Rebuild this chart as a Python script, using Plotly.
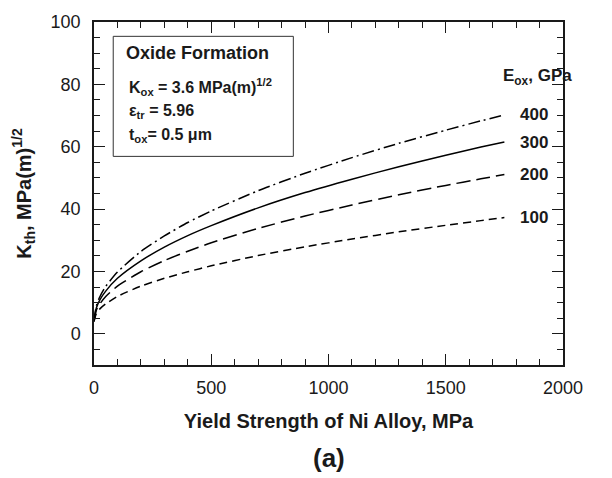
import plotly.graph_objects as go

# Yield strength of Ni alloy (MPa)
sigma = [0, 10, 25, 50, 100, 200, 300, 400, 500, 700, 900, 1100, 1300, 1500, 1650, 1750]
# Threshold K (MPa m^1/2) for each oxide modulus
k_400 = [4.0, 9.0, 11.9, 15.2, 19.8, 26.4, 31.4, 35.7, 39.4, 45.9, 51.5, 56.5, 61.1, 65.3, 68.3, 70.2]
k_300 = [4.0, 8.3, 10.9, 13.7, 17.8, 23.4, 27.8, 31.5, 34.7, 40.4, 45.3, 49.6, 53.6, 57.3, 59.9, 61.5]
k_200 = [4.0, 7.6, 9.6, 12.0, 15.3, 19.9, 23.5, 26.5, 29.2, 33.8, 37.8, 41.3, 44.6, 47.6, 49.7, 51.1]
k_100 = [4.0, 6.5, 8.0, 9.6, 12.0, 15.3, 17.8, 19.9, 21.8, 25.1, 27.9, 30.4, 32.7, 34.8, 36.3, 37.3]

series = [("400", k_400, "12px,4px,2px,4px"), ("300", k_300, "solid"),
          ("200", k_200, "14px,6px"), ("100", k_100, "8px,5px")]

FONT = "Liberation Sans, Arial, Helvetica, sans-serif"
INK = "#1a1a1a"

fig = go.Figure()
for name, vals, dash in series:
    fig.add_trace(go.Scatter(x=sigma, y=vals, mode="lines", name=name,
                             line=dict(color="black", width=1.5, dash=dash, shape="spline",
                                       smoothing=0.6),
                             showlegend=False))

# curve labels at end of each curve
label_x = 1876
for name, vals, dash in series:
    fig.add_annotation(x=label_x, y=vals[-1], text="<b>%s</b>" % name, showarrow=False,
                       xanchor="center", yanchor="middle",
                       font=dict(family=FONT, size=17, color=INK))
fig.add_annotation(x=1893, y=82.3, text="<b>E<sub>ox</sub>, GPa</b>", showarrow=False,
                   xanchor="center", yanchor="middle",
                   font=dict(family=FONT, size=17, color=INK))

# info box
fig.add_shape(type="rect", x0=82, x1=850, y0=56.9, y1=95.4, xref="x", yref="y",
              line=dict(color="#333", width=1), fillcolor="white", layer="above")
fig.add_annotation(x=441, y=89.9, text="<b>Oxide Formation</b>", showarrow=False,
                   xanchor="center", yanchor="middle",
                   font=dict(family=FONT, size=18, color=INK))
box_lines = ["<b>K<sub>ox</sub> = 3.6 MPa(m)<sup>1/2</sup></b>",
             "<b>ε<sub>tr</sub> = 5.96</b>",
             "<b>t<sub>ox</sub>= 0.5 μm</b>"]
box_y = [79.3, 71.3, 63.5]
for t, yy in zip(box_lines, box_y):
    fig.add_annotation(x=141, y=yy, text=t, showarrow=False, xanchor="left",
                       yanchor="middle", font=dict(family=FONT, size=16, color=INK))

fig.add_annotation(x=0.5, y=-0.272, xref="paper", yref="paper", text="<b>(a)</b>",
                   showarrow=False, xanchor="center", yanchor="middle",
                   font=dict(family=FONT, size=26, color=INK))

axis_common = dict(showline=True, linecolor=INK, linewidth=1.5, mirror="ticks",
                   ticks="inside", ticklen=11, tickwidth=1.3, tickcolor=INK,
                   showgrid=False, zeroline=False,
                   tickfont=dict(family=FONT, size=18, color=INK))

fig.update_xaxes(range=[0, 2000], tickvals=[0, 500, 1000, 1500, 2000],
                 minor=dict(ticks="inside", ticklen=6, tickwidth=1.1, tickcolor=INK, dtick=100),
                 title=dict(text="<b>Yield Strength of Ni Alloy, MPa</b>",
                            font=dict(family=FONT, size=20, color=INK), standoff=17),
                 ticklabelstandoff=6,
                 **axis_common)
fig.update_yaxes(range=[-10, 100], tickvals=[0, 20, 40, 60, 80, 100],
                 minor=dict(ticks="inside", ticklen=6, tickwidth=1.1, tickcolor=INK, dtick=5),
                 title=dict(text="<b>K<sub>th</sub>, MPa(m)<sup>1/2</sup></b>",
                            font=dict(family=FONT, size=20, color=INK), standoff=14),
                 ticklabelstandoff=8,
                 **axis_common)

fig.update_layout(width=612, height=478, plot_bgcolor="white", paper_bgcolor="white",
                  margin=dict(l=94, r=49, t=16, b=113))

fig.write_html("out.html")
